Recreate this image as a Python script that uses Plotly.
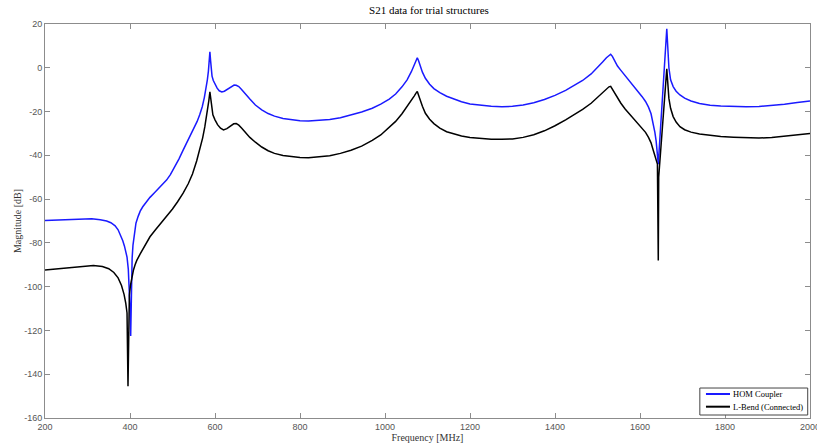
import plotly.graph_objects as go

# Transmission magnitude |S21| in dB versus frequency in MHz, as (MHz, dB) samples
hom_points = [
    (200, -69.8), (230, -69.6), (260, -69.3), (290, -69.0), (310, -69.0), (330, -69.4),
    (345, -70.0), (355, -70.8), (365, -72.2), (372, -74.0), (378, -76.5), (383, -79.0),
    (387, -81.5), (390, -83.5), (393, -86.5), (396, -92.0), (398.5, -100.0),
    (400.5, -112.0), (401.6, -122.5), (402.5, -105.0), (403.5, -95.0), (405, -87.0),
    (407, -81.0), (410, -76.0), (414, -71.0), (419, -68.0), (424, -65.5), (430, -63.5),
    (438, -61.3), (447, -59.2), (457, -57.2), (468, -55.0), (478, -53.0), (486, -51.3),
    (495, -48.8), (505, -45.5), (515, -41.7), (525, -37.6), (535, -33.8), (545, -29.8),
    (552, -27.0), (558, -24.5), (564, -21.5), (570, -17.8), (575, -13.5), (579, -9.5),
    (582, -5.5), (584.5, -1.5), (586.5, 3.0), (588, 7.3), (589.5, 3.5), (591, -1.0),
    (593, -3.8), (596, -5.8), (600, -7.5), (605, -9.3), (610, -10.5), (616, -11.0),
    (622, -10.7), (630, -9.7), (638, -8.6), (645, -7.9), (650, -8.0), (656, -8.6),
    (662, -9.8), (670, -11.8), (682, -14.3), (695, -17.0), (710, -19.2), (725, -20.9),
    (740, -22.1), (760, -23.2), (780, -23.8), (800, -24.2), (820, -24.3), (845, -24.1),
    (870, -23.6), (895, -22.8), (920, -21.6), (945, -20.2), (970, -18.5), (990, -16.6),
    (1010, -14.3), (1025, -12.0), (1040, -8.7), (1052, -5.5), (1062, -1.8), (1069, 1.2),
    (1073, 3.2), (1076, 4.6), (1079, 3.2), (1083, 0.6), (1088, -2.0), (1095, -4.8),
    (1105, -7.5), (1115, -9.5), (1129, -11.4), (1145, -13.0), (1160, -14.2),
    (1180, -15.5), (1200, -16.5), (1225, -17.2), (1250, -17.6), (1275, -17.8),
    (1300, -17.6), (1325, -17.0), (1350, -16.0), (1375, -14.5), (1400, -12.6),
    (1425, -10.3), (1445, -8.2), (1465, -5.8), (1485, -2.8), (1500, 0.0), (1512, 2.6),
    (1521, 4.6), (1527, 5.8), (1531, 6.2), (1535, 5.2), (1540, 3.2), (1547, 0.8),
    (1555, -1.2), (1565, -3.5), (1575, -5.8), (1585, -8.3), (1595, -10.8),
    (1605, -13.2), (1613, -15.4), (1620, -18.0), (1626, -21.0), (1631, -25.5),
    (1635, -29.5), (1638, -33.5), (1641, -39.0), (1643, -44.0), (1663, 17.8),
    (1665, 8.0), (1668, 0.0), (1672, -5.5), (1678, -8.6), (1685, -10.7), (1694, -12.4),
    (1705, -13.9), (1720, -15.2), (1740, -16.3), (1765, -17.1), (1790, -17.5),
    (1820, -17.7), (1850, -17.8), (1880, -17.7), (1910, -17.3), (1940, -16.7),
    (1970, -15.9), (2000, -15.2),
]

lbend_points = [
    (200, -92.4), (230, -91.8), (260, -91.1), (290, -90.5), (314, -90.3), (335, -90.8),
    (350, -91.8), (362, -93.5), (372, -96.0), (380, -99.5), (386, -103.5),
    (390, -107.5), (393, -112.0), (395.3, -145.5), (396.5, -112.0), (398.5, -104.0),
    (401, -99.5), (404, -96.0), (408, -92.5), (412, -90.0), (416, -88.0), (424, -85.0),
    (435, -81.0), (447, -77.2), (460, -74.0), (473, -71.0), (486, -68.0), (500, -64.5),
    (512, -61.2), (525, -57.3), (537, -53.0), (547, -48.5), (557, -42.5), (565, -37.0),
    (571, -32.0), (576, -27.0), (580, -22.5), (583, -18.5), (585.5, -15.0),
    (588, -11.0), (590, -15.0), (592, -19.0), (595, -21.5), (600, -23.8), (606, -26.0),
    (613, -27.6), (620, -28.4), (628, -27.8), (636, -26.5), (644, -25.6), (650, -25.5),
    (656, -26.2), (663, -27.6), (672, -29.8), (682, -31.8), (695, -34.0), (710, -36.2),
    (725, -37.9), (740, -39.1), (760, -40.1), (780, -40.7), (800, -41.0), (820, -41.1),
    (845, -40.8), (870, -40.2), (895, -39.1), (920, -37.7), (945, -35.8), (970, -33.2),
    (990, -30.7), (1010, -27.3), (1025, -24.5), (1040, -21.0), (1052, -17.8),
    (1062, -14.8), (1069, -12.8), (1073, -11.6), (1076, -10.8), (1079, -12.5),
    (1083, -15.0), (1088, -17.6), (1095, -20.8), (1105, -23.5), (1115, -25.5),
    (1129, -27.6), (1145, -29.2), (1160, -30.2), (1180, -31.2), (1200, -31.8),
    (1225, -32.3), (1250, -32.6), (1275, -32.7), (1300, -32.5), (1325, -31.8),
    (1350, -30.6), (1375, -28.8), (1400, -26.5), (1425, -23.8), (1445, -21.5),
    (1465, -19.0), (1485, -16.2), (1500, -13.6), (1512, -11.3), (1521, -9.6),
    (1527, -8.7), (1531, -8.5), (1535, -9.8), (1540, -11.8), (1547, -14.0),
    (1555, -16.2), (1565, -18.8), (1575, -21.0), (1585, -23.2), (1595, -25.4),
    (1605, -27.6), (1613, -29.5), (1620, -31.8), (1626, -34.3), (1631, -37.6),
    (1635, -40.5), (1638, -42.5), (1641, -44.0), (1643, -88.0), (1644, -50.0),
    (1663, -0.5), (1665, -8.0), (1668, -14.0), (1672, -18.5), (1678, -22.3),
    (1685, -24.8), (1694, -26.9), (1705, -28.3), (1720, -29.4), (1740, -30.3),
    (1765, -31.0), (1790, -31.4), (1820, -31.7), (1850, -32.0), (1880, -32.1),
    (1910, -31.9), (1940, -31.3), (1970, -30.7), (2000, -30.0),
]

series_names = ["HOM Coupler", "L-Bend (Connected)"]
series_colors = ["#1a1aff", "#000000"]

x_ticks = [200, 400, 600, 800, 1000, 1200, 1400, 1600, 1800, 2000]
x_labels = ["200", "400", "600", "800", "1000", "1200", "1400", "1600", "1800", "2000"]
y_ticks = [20, 0, -20, -40, -60, -80, -100, -120, -140, -160]
y_labels = ["20", "0", "-20", "-40", "-60", "-80", "-100", "-120", "-140", "-160"]

serif = "Liberation Serif, Times New Roman, serif"
sans = "Liberation Sans, Arial, sans-serif"

fig = go.Figure()
for pts, name, color in zip([hom_points, lbend_points], series_names, series_colors):
    freq, db = zip(*pts)
    fig.add_trace(go.Scatter(x=freq, y=db, mode="lines", name=name,
                             line=dict(color=color, width=1.5), showlegend=False))

# Compact boxed legend in the lower-right corner (paper coordinates)
box_x0, box_x1, box_y0, box_y1 = 0.856, 0.997, 0.0076, 0.0761
sample_x0, sample_x1, text_x = 0.864, 0.8954, 0.897
row_y = [0.0609, 0.0287]
shapes = [dict(type="rect", xref="paper", yref="paper", x0=box_x0, x1=box_x1,
               y0=box_y0, y1=box_y1, line=dict(color="#444444", width=1),
               fillcolor="white", layer="above")]
annotations = []
for name, color, y in zip(series_names, series_colors, row_y):
    shapes.append(dict(type="line", xref="paper", yref="paper", x0=sample_x0,
                       x1=sample_x1, y0=y, y1=y, line=dict(color=color, width=2),
                       layer="above"))
    annotations.append(dict(text=name, xref="paper", yref="paper", x=text_x, y=y,
                            xanchor="left", yanchor="middle", showarrow=False,
                            font=dict(family=serif, size=8.5, color="#000000")))

axis_common = dict(
    showgrid=False, zeroline=False, showline=True, linecolor="#8c8c8c", linewidth=1,
    mirror="ticks", ticks="inside", ticklen=5, tickcolor="#8c8c8c", tickwidth=1,
    tickfont=dict(family=sans, size=9, color="#555555"),
    ticklabeloverflow="allow", automargin=False,
)

fig.update_layout(
    width=817, height=443,
    margin=dict(l=45, r=7, t=24, b=25),
    paper_bgcolor="white", plot_bgcolor="white",
    title=dict(text="S21 data for trial structures", x=0.525, xanchor="center",
               y=0.985, yanchor="top",
               font=dict(family=serif, size=11, color="#000000")),
    xaxis=dict(range=[200, 2000], tickvals=x_ticks, ticktext=x_labels,
               title=dict(text="Frequency [MHz]", standoff=2,
                          font=dict(family=serif, size=10, color="#333333")),
               **axis_common),
    yaxis=dict(range=[-160, 20], tickvals=y_ticks, ticktext=y_labels,
               title=dict(text="Magnitude [dB]", standoff=0,
                          font=dict(family=serif, size=10, color="#333333")),
               **axis_common),
    shapes=shapes,
    annotations=annotations,
    showlegend=False,
)

fig.write_html("out.html")
